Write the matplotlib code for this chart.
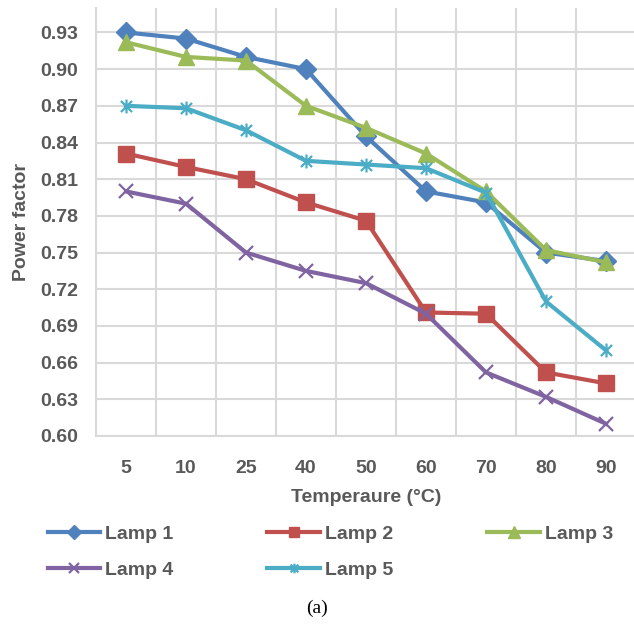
import numpy as np
import matplotlib
matplotlib.use("Agg")
import matplotlib.pyplot as plt
from matplotlib.path import Path

temps = ["5", "10", "25", "40", "50", "60", "70", "80", "90"]
lamp1 = [0.930, 0.925, 0.910, 0.900, 0.845, 0.800, 0.791, 0.750, 0.743]
lamp2 = [0.831, 0.820, 0.810, 0.791, 0.776, 0.701, 0.700, 0.652, 0.643]
lamp3 = [0.922, 0.910, 0.907, 0.870, 0.852, 0.831, 0.800, 0.752, 0.742]
lamp4 = [0.800, 0.790, 0.750, 0.735, 0.725, 0.700, 0.652, 0.632, 0.610]
lamp5 = [0.870, 0.868, 0.850, 0.825, 0.822, 0.819, 0.799, 0.710, 0.670]
names = ["Lamp 1", "Lamp 2", "Lamp 3", "Lamp 4", "Lamp 5"]
yticks = [0.60, 0.63, 0.66, 0.69, 0.72, 0.75, 0.78, 0.81, 0.84, 0.87, 0.90, 0.93]

# excel style asterisk marker
star = Path([(-1, -1), (1, 1), (-1, 1), (1, -1), (0, -1.25), (0, 1.25)],
            [Path.MOVETO, Path.LINETO, Path.MOVETO, Path.LINETO, Path.MOVETO, Path.LINETO])

styles = [
    ("#4F81BD", "D", 10),
    ("#C0504D", "s", 11),
    ("#9BBB59", "^", 12),
    ("#8064A2", "x", 10),
    ("#4BACC6", star, 10),
]

plt.rcParams["font.family"] = ["Liberation Sans", "DejaVu Sans"]
txt = "#595959"

fig = plt.figure(figsize=(6.34, 6.30), dpi=100)
ax = fig.add_axes([96 / 634, 1 - 436 / 630, 540 / 634, 428 / 630])

x = np.arange(len(temps))
lines = []
for data, name, (c, m, ms) in zip([lamp1, lamp2, lamp3, lamp4, lamp5], names, styles):
    if m == "x" or m is star:
        ln, = ax.plot(x, data, color=c, lw=3, marker=m, ms=ms, mew=1.6, mec=c, label=name)
    else:
        ln, = ax.plot(x, data, color=c, lw=3, marker=m, ms=ms, mec=c, mfc=c, label=name)
    lines.append(ln)

ax.set_xlim(-0.5, len(temps) - 0.5)
ax.set_ylim(0.60, 0.95)
ax.set_yticks(yticks)
ax.set_yticklabels([f"{v:.2f}" for v in yticks])
ax.set_xticks(x)
ax.set_xticklabels(temps)
ax.set_xticks(np.arange(len(temps) + 1) - 0.5, minor=True)
ax.grid(True, which="minor", axis="x", color="#D9D9D9", lw=1.5)
ax.grid(True, which="major", axis="y", color="#D9D9D9", lw=1.5)
ax.set_axisbelow(True)
for s in ["top", "right"]:
    ax.spines[s].set_visible(False)
for s in ["left", "bottom"]:
    ax.spines[s].set_color("#D9D9D9")
    ax.spines[s].set_linewidth(1.5)
ax.tick_params(which="both", length=0)
ax.tick_params(axis="y", pad=13, labelsize=14, labelcolor=txt)
ax.tick_params(axis="x", pad=17, labelsize=14, labelcolor=txt)
for t in ax.get_xticklabels() + ax.get_yticklabels():
    t.set_fontweight("bold")

ax.set_xlabel("Temperaure (°C)", fontsize=14, fontweight="bold", color=txt, labelpad=9)
ax.set_ylabel("Power factor", fontsize=14, fontweight="bold", color=txt, labelpad=7)

# legend fills column by column, so reorder to read row-wise
order = [0, 3, 1, 4, 2]
leg = fig.legend([lines[i] for i in order], [names[i] for i in order],
                 loc="upper left", bbox_to_anchor=(30 / 634, 1 - 508 / 630), ncol=3,
                 frameon=False, prop={"size": 14, "weight": "bold"},
                 handlelength=2.7, handletextpad=0.25, columnspacing=4.85,
                 labelspacing=0.95, markerscale=0.7)
for t in leg.get_texts():
    t.set_color(txt)

fig.text(317 / 634, 1 - 608 / 630, "(a)", ha="center", va="center",
         fontsize=14, family="Liberation Serif", color="black")

fig.savefig("out.png", dpi=100)
